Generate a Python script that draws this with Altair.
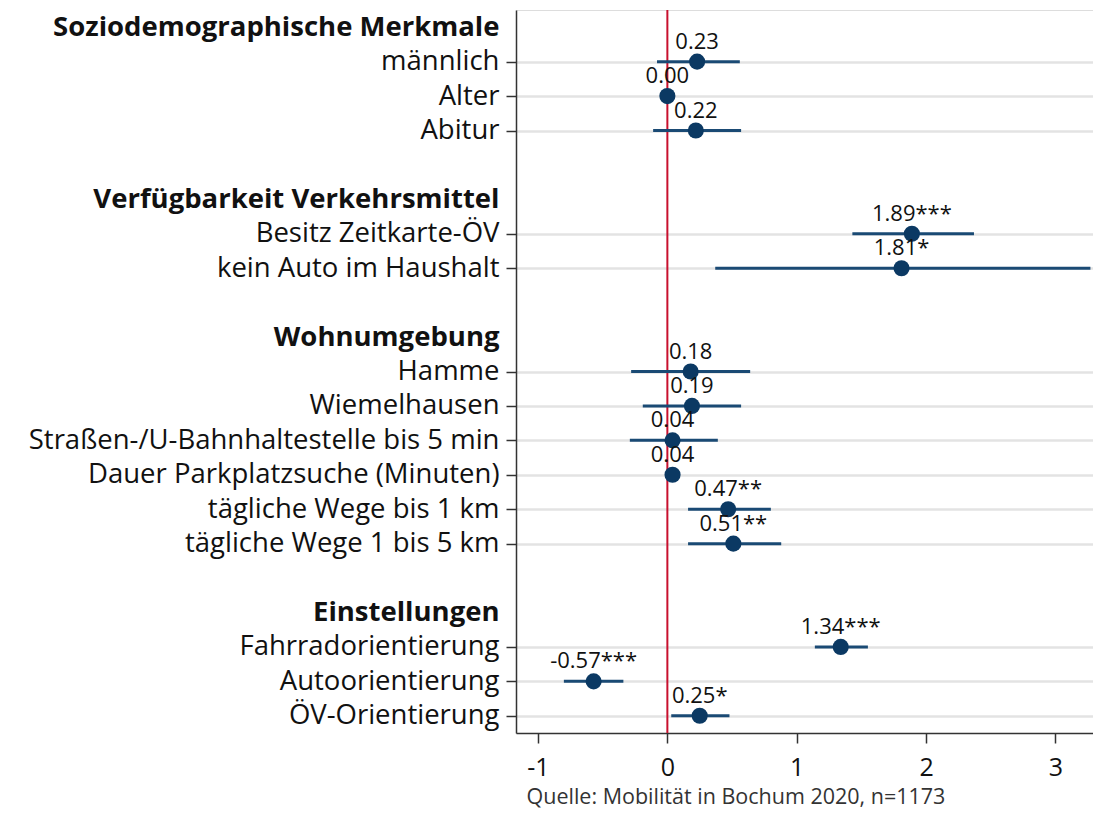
import json
import altair as alt
import pandas as pd

# ---- data ----
rows = [
    "Soziodemographische Merkmale", "männlich", "Alter", "Abitur", "",
    "Verfügbarkeit Verkehrsmittel", "Besitz Zeitkarte-ÖV", "kein Auto im Haushalt", "",
    "Wohnumgebung", "Hamme", "Wiemelhausen", "Straßen-/U-Bahnhaltestelle bis 5 min",
    "Dauer Parkplatzsuche (Minuten)", "tägliche Wege bis 1 km", "tägliche Wege 1 bis 5 km", "",
    "Einstellungen", "Fahrradorientierung", "Autoorientierung", "ÖV-Orientierung",
]
header_rows = [0, 5, 9, 17]
blank_rows = [4, 8, 16]

variables = [
    "männlich", "Alter", "Abitur",
    "Besitz Zeitkarte-ÖV", "kein Auto im Haushalt",
    "Hamme", "Wiemelhausen", "Straßen-/U-Bahnhaltestelle bis 5 min",
    "Dauer Parkplatzsuche (Minuten)", "tägliche Wege bis 1 km", "tägliche Wege 1 bis 5 km",
    "Fahrradorientierung", "Autoorientierung", "ÖV-Orientierung",
]
coef = [0.23, 0.00, 0.22, 1.89, 1.81, 0.18, 0.19, 0.04, 0.04, 0.47, 0.51, 1.34, -0.57, 0.25]
ci_low = [-0.08, -0.01, -0.11, 1.43, 0.37, -0.28, -0.19, -0.29, 0.02, 0.16, 0.16, 1.14, -0.80, 0.03]
ci_high = [0.56, 0.01, 0.57, 2.37, 3.27, 0.64, 0.57, 0.39, 0.06, 0.80, 0.88, 1.55, -0.34, 0.48]
stars = ["", "", "", "***", "*", "", "", "", "", "**", "**", "***", "***", "*"]
x_ticks = [-1, 0, 1, 2, 3]
caption = "Quelle: Mobilität in Bochum 2020, n=1173"

df = pd.DataFrame({
    "var": variables,
    "row": [rows.index(v) for v in variables],
    "coef": coef,
    "lo": ci_low,
    "hi": ci_high,
    "label": [f"{c:.2f}{s}" for c, s in zip(coef, stars)],
})

FONT = "Open Sans"
POINT = "#0b3963"
LINE = "#1a4a74"

label_rows = [i for i in range(len(rows)) if i not in blank_rows]
hdr_test = f"indexof({json.dumps(header_rows)}, datum.value) >= 0"

xscale = alt.Scale(domain=[-1.17, 3.29], nice=False, zero=False)
yscale = alt.Scale(domain=[-0.5, len(rows) - 0.5], reverse=True, nice=False, zero=False)

base = alt.Chart(df)

yaxis = alt.Axis(
    values=label_rows,
    labelExpr=f"{json.dumps(rows, ensure_ascii=False)}[datum.value]",
    title=None,
    labelFontSize=27.5,
    labelFont=FONT,
    labelColor="#111",
    labelFontWeight={"condition": {"test": hdr_test, "value": "bold"}, "value": "normal"},
    tickOpacity={"condition": {"test": hdr_test, "value": 0}, "value": 1},
    gridOpacity={"condition": {"test": hdr_test, "value": 0}, "value": 1},
    grid=True,
    gridColor="#e3e3e3",
    gridWidth=2.5,
    tickSize=10,
    tickColor="#333",
    tickWidth=1.5,
    labelPadding=7,
    domainColor="#333",
    domainWidth=1.5,
    labelLimit=600,
)

xaxis = alt.Axis(
    values=x_ticks,
    labelExpr="'' + datum.value",
    grid=False,
    title=caption,
    titleFont=FONT,
    titleFontSize=21.5,
    titleFontWeight="normal",
    titleColor="#333",
    titleAnchor="start",
    titleAlign="left",
    titleX=10,
    titleY=70,
    titleBaseline="alphabetic",
    labelFont=FONT,
    labelFontSize=25,
    labelColor="#111",
    labelPadding=12,
    tickSize=10,
    tickColor="#333",
    tickWidth=1.5,
    domainColor="#333",
    domainWidth=1.5,
)

zero_rule = alt.Chart(pd.DataFrame({"x": [0]})).mark_rule(
    color="#c8102e", strokeWidth=2
).encode(x=alt.X("x:Q", scale=xscale, axis=xaxis))

ci = base.mark_rule(color=LINE, strokeWidth=3).encode(
    x=alt.X("lo:Q", scale=xscale, axis=xaxis),
    x2="hi:Q",
    y=alt.Y("row:Q", scale=yscale, axis=yaxis),
)

pts = base.mark_circle(size=260, color=POINT, opacity=1).encode(
    x=alt.X("coef:Q", scale=xscale, axis=xaxis),
    y=alt.Y("row:Q", scale=yscale, axis=yaxis),
)

txt = base.mark_text(
    font=FONT, fontSize=22, color="#111", baseline="alphabetic", dy=-13, align="center"
).encode(
    x=alt.X("coef:Q", scale=xscale, axis=xaxis),
    y=alt.Y("row:Q", scale=yscale, axis=yaxis),
    text="label:N",
)

chart = alt.layer(zero_rule, ci, pts, txt).properties(
    width=577,
    height=723,
    autosize=alt.AutoSizeParams(type="none"),
    padding={"left": 508, "top": 2, "right": 0, "bottom": 76},
).configure_view(stroke=None).configure(background="white")

chart.save("out.html", embed_options={"renderer": "svg", "actions": False})
